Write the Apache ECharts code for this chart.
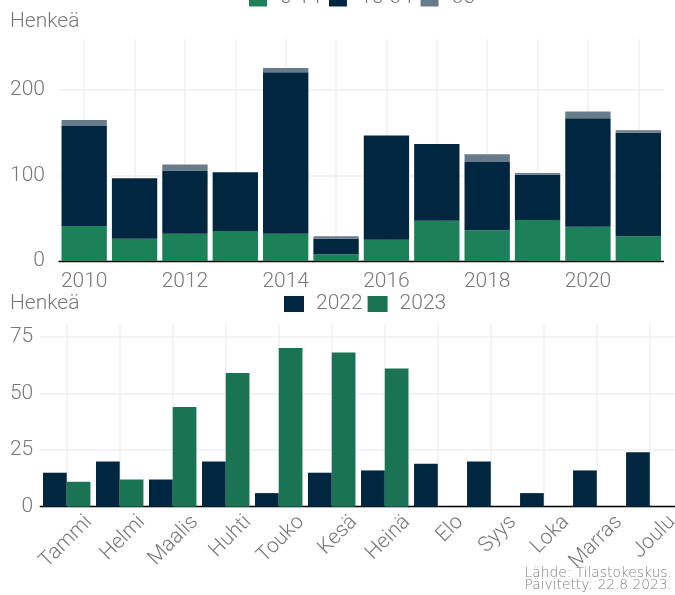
<!DOCTYPE html>
<html><head><meta charset="utf-8">
<script src="https://cdn.jsdelivr.net/npm/echarts@6/dist/echarts.min.js"></script>
<style>html,body{margin:0;padding:0;background:#fff}#c{width:675px;height:595px}</style>
</head><body><div id="c"></div>
<script>
const years = ['2010','2011','2012','2013','2014','2015','2016','2017','2018','2019','2020','2021'];
const age0to14 = [41,26,32,35,32,8,25,47,36,48,40,29];
const age15to64 = [117,71,74,69,189,18,122,90,80,53,127,121];
const age65plus = [7,0,7,0,5,3,0,0,9,2,8,3];
const ageNames = ['0-14','15-64','65-'];
const months = ['Tammi','Helmi','Maalis','Huhti','Touko','Kesä','Heinä','Elo','Syys','Loka','Marras','Joulu'];
const v2022 = [15,20,12,20,6,15,16,19,20,6,16,24];
const v2023 = [11,12,44,59,70,68,61,null,null,null,null,null];
const yTicksTop = [0,100,200];
const yTicksBottom = [0,25,50,75];

const FONT = 'Roboto';
const GRAY = '#787878';
const NAVY = '#002640';
const GREEN1 = '#1c8058';
const GREEN2 = '#1a7352';
const SLATE = '#687b8a';
const GRID = '#efefef';

const topMax = Math.max(...years.map((_, i) => age0to14[i] + age15to64[i] + age65plus[i])) * 1.15;
const botMax = Math.max(...v2022, ...v2023.filter(v => v != null)) * 1.15;

const chart = echarts.init(document.getElementById('c'), null, {renderer: 'canvas'});
const txt = {fontFamily: FONT, fontWeight: 300, color: GRAY, fontSize: 21};
chart.setOption({
  animation: false,
  textStyle: {fontFamily: FONT},
  legend: [
    {data: ageNames, left: 249, top: -12.5, padding: 0, itemWidth: 18, itemHeight: 17, itemGap: 8, icon: 'rect',
     textStyle: Object.assign({}, txt, {padding: [0,0,0,8]})},
    {data: ['2022','2023'], left: 284, top: 293.5, padding: 0, itemWidth: 20, itemHeight: 16, itemGap: 5, icon: 'rect',
     textStyle: Object.assign({}, txt, {padding: [0,0,0,7]})}
  ],
  graphic: [
    {type: 'text', left: 10, top: 11, style: {text: 'Henkeä', font: '300 21px ' + FONT, fill: GRAY}},
    {type: 'text', left: 10, top: 293, style: {text: 'Henkeä', font: '300 21px ' + FONT, fill: GRAY}},
    {type: 'text', right: 3, top: 566, style: {text: 'Lähde: Tilastokeskus.\nPäivitetty: 22.8.2023.', font: '200 13.8px "DejaVu Sans"', fill: '#808080', align: 'right', lineHeight: 12.5}}
  ],
  grid: [
    {left: 59, right: 11.5, top: 39, bottom: 334, outerBoundsMode: 'none', containLabel: false},
    {left: 40.2, right: -1.3, top: 324.3, bottom: 88.3, outerBoundsMode: 'none', containLabel: false}
  ],
  xAxis: [
    {type: 'category', gridIndex: 0, data: years,
     axisLine: {lineStyle: {color: '#000', width: 1.3}}, axisTick: {show: false},
     axisLabel: Object.assign({}, txt, {interval: 1, margin: 10}),
     splitLine: {show: true, interval: 0, alignWithLabel: true, lineStyle: {color: GRID, width: 1.5}}},
    {type: 'category', gridIndex: 1, data: months,
     axisLine: {lineStyle: {color: '#000', width: 1.3}}, axisTick: {show: false},
     axisLabel: Object.assign({}, txt, {interval: 0, rotate: 45, margin: -10, verticalAlign: 'top', padding: [21,0,0,0]}),
     splitLine: {show: true, interval: 0, alignWithLabel: true, lineStyle: {color: GRID, width: 1.5}}}
  ],
  yAxis: [
    {type: 'value', gridIndex: 0, min: 0, max: topMax, interval: 100,
     axisLine: {show: false}, axisTick: {show: false},
     axisLabel: Object.assign({}, txt, {margin: 14, showMaxLabel: false,
       formatter: v => yTicksTop.includes(v) ? String(v) : ''}),
     splitLine: {show: true, showMaxLine: false, lineStyle: {color: GRID, width: 1.5}}},
    {type: 'value', gridIndex: 1, min: 0, max: botMax, interval: 25,
     axisLine: {show: false}, axisTick: {show: false},
     axisLabel: Object.assign({}, txt, {margin: 7, showMaxLabel: false,
       formatter: v => yTicksBottom.includes(v) ? String(v) : ''}),
     splitLine: {show: true, showMaxLine: false, lineStyle: {color: GRID, width: 1.5}}}
  ],
  series: [
    {name: ageNames[0], type: 'bar', stack: 'a', xAxisIndex: 0, yAxisIndex: 0, data: age0to14, itemStyle: {color: GREEN1}, barWidth: '90%'},
    {name: ageNames[1], type: 'bar', stack: 'a', xAxisIndex: 0, yAxisIndex: 0, data: age15to64, itemStyle: {color: NAVY}, barWidth: '90%'},
    {name: ageNames[2], type: 'bar', stack: 'a', xAxisIndex: 0, yAxisIndex: 0, data: age65plus, itemStyle: {color: SLATE}, barWidth: '90%'},
    {name: '2022', type: 'bar', xAxisIndex: 1, yAxisIndex: 1, data: v2022, itemStyle: {color: NAVY}, barGap: '0%', barCategoryGap: '10.5%'},
    {name: '2023', type: 'bar', xAxisIndex: 1, yAxisIndex: 1, data: v2023, itemStyle: {color: GREEN2}, barGap: '0%', barCategoryGap: '10.5%'}
  ]
});
</script></body></html>
